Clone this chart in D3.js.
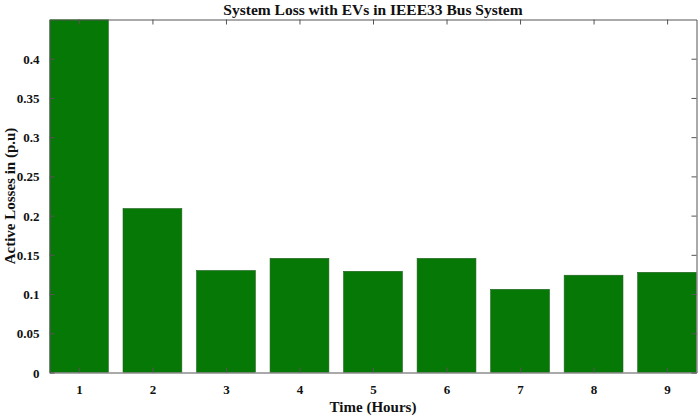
<!DOCTYPE html>
<html>
<head>
<meta charset="utf-8">
<script src="https://cdn.jsdelivr.net/npm/d3@7"></script>
<style>
  body { margin: 0; background: #fff; }
  text { font-family: "Liberation Serif", "Times New Roman", serif; font-weight: bold; fill: #111; }
</style>
</head>
<body>
<script>
// data
var hours = [1, 2, 3, 4, 5, 6, 7, 8, 9];
var losses = [0.47, 0.209, 0.130, 0.1455, 0.129, 0.1455, 0.106, 0.124, 0.1277];
var yTicks = [0, 0.05, 0.1, 0.15, 0.2, 0.25, 0.3, 0.35, 0.4];

var W = 699, H = 416;
var margin = {top: 19.5, right: 2.5, bottom: 43.5, left: 49.5};
var width = W - margin.left - margin.right,
    height = H - margin.top - margin.bottom;

var barColor = '#067806', axisColor = '#555';

var svg = d3.select('body').append('svg')
  .attr('width', W)
  .attr('height', H);

var g = svg.append('g')
  .attr('transform', 'translate(' + margin.left + ',' + margin.top + ')');

// scales
var x = d3.scaleLinear().domain([0.6, 9.4]).range([0, width]);
var y = d3.scaleLinear().domain([0, 0.45]).range([height, 0]);
var barW = x(1.8) - x(1);

g.append('clipPath').attr('id', 'clip')
  .append('rect').attr('width', width).attr('height', height);

// bars
g.append('g').attr('clip-path', 'url(#clip)')
  .selectAll('rect')
  .data(hours)
  .enter().append('rect')
  .attr('x', function(d) { return x(d) - barW / 2; })
  .attr('y', function(d, i) { return y(losses[i]); })
  .attr('width', barW)
  .attr('height', function(d, i) { return y(0) - y(losses[i]); })
  .style('fill', barColor)
  .style('stroke', '#1f5f1f')
  .style('stroke-width', 0.6);

// axes (ticks inside, box on)
var xAxis = g.append('g')
  .attr('transform', 'translate(0,' + height + ')')
  .call(d3.axisBottom(x).tickValues(hours).tickFormat(d3.format('d')).tickSizeInner(-5).tickSizeOuter(0).tickPadding(12));
var xTop = g.append('g')
  .call(d3.axisTop(x).tickValues(hours).tickSizeInner(-5).tickSizeOuter(0).tickFormat(''));
var yAxis = g.append('g')
  .call(d3.axisLeft(y).tickValues(yTicks).tickFormat(d3.format('')).tickSizeInner(-5).tickSizeOuter(0).tickPadding(10));
var yRight = g.append('g')
  .attr('transform', 'translate(' + width + ',0)')
  .call(d3.axisRight(y).tickValues(yTicks).tickSizeInner(-5).tickSizeOuter(0).tickFormat(''));

[xAxis, xTop, yAxis, yRight].forEach(function(a) {
  a.selectAll('path, line').style('stroke', axisColor).style('stroke-width', 1);
  a.selectAll('text').style('font-size', '13px').style('font-family', '"Liberation Serif", serif').style('font-weight', 'bold').style('fill', '#111');
});
yAxis.selectAll('text').attr('dy', '0.35em');

// labels
svg.append('text')
  .attr('x', margin.left + width / 2)
  .attr('y', 15)
  .attr('text-anchor', 'middle')
  .style('font-size', '15.5px')
  .text('System Loss with EVs in IEEE33 Bus System');

svg.append('text')
  .attr('x', margin.left + width / 2)
  .attr('y', 412)
  .attr('text-anchor', 'middle')
  .style('font-size', '15px')
  .text('Time (Hours)');

svg.append('text')
  .attr('transform', 'translate(15,' + (margin.top + height / 2) + ') rotate(-90)')
  .attr('text-anchor', 'middle')
  .style('font-size', '15px')
  .text('Active Losses in (p.u)');
</script>
</body>
</html>
